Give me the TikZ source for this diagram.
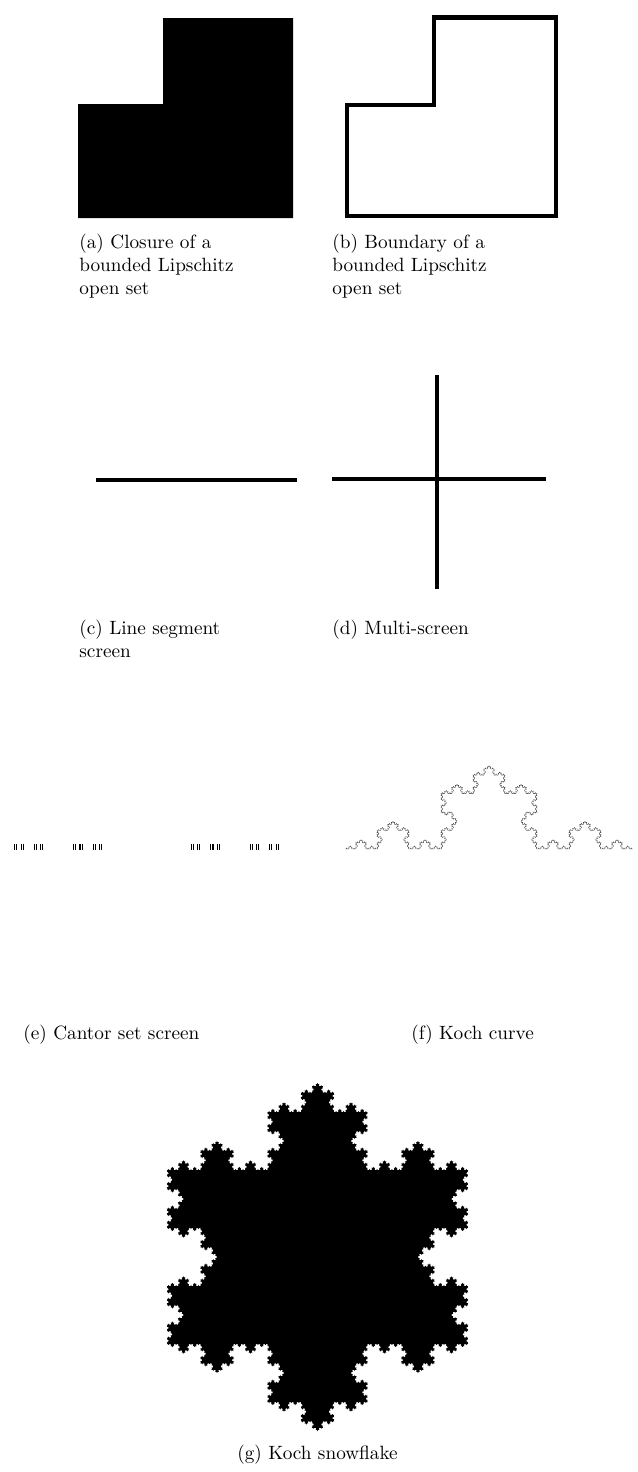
\documentclass[tikz,border=0pt]{standalone}
\usetikzlibrary{lindenmayersystems}
\pgfdeclarelindenmayersystem{Koch}{\rule{F -> F+F--F+F}}
\begin{document}
\begin{tikzpicture}[x=0.52pt,y=-0.52pt,
  caption/.style={anchor=base west,inner sep=0pt,font=\fontsize{10}{12}\selectfont},
  centercap/.style={anchor=base,inner sep=0pt,font=\fontsize{10}{12}\selectfont},
  thickline/.style={line width=2.08pt},
  outline/.style={line width=2.35pt,line join=miter},
  kochline/.style={line width=0.2pt,black!75}]
\useasboundingbox (0,0) rectangle (637,1472);

% (a) closure
\fill (163,18) -- (293,18) -- (293,218) -- (78,218) -- (78,104) -- (163,104) -- cycle;
\node[caption] (capa1) at (79,248) {(a) Closure of a};
\node[caption] (capa2) at (79,271) {bounded Lipschitz};
\node[caption] (capa3) at (79,294) {open set};

% (b) boundary
\draw[outline] (347,105) -- (434,105) -- (434,17.5) -- (556,17.5) -- (556,216) -- (347,216) -- cycle;
\node[caption] (capb1) at (332,248) {(b) Boundary of a};
\node[caption] (capb2) at (332,271) {bounded Lipschitz};
\node[caption] (capb3) at (332,294) {open set};

% (c) line segment
\draw[thickline] (96,480) -- (297,480);
\node[caption] (capc1) at (79,634) {(c) Line segment};
\node[caption] (capc2) at (79,657) {screen};

% (d) multi-screen
\draw[thickline] (332,479) -- (546,479);
\draw[thickline] (437,375) -- (437,589);
\node[caption] (capd1) at (332,634) {(d) Multi-screen};

% (e) Cantor set
\foreach \a in {0,2}{\foreach \b in {0,2}{\foreach \c in {0,2}{\foreach \d in {0,2}{\foreach \e in {0,2}{
  \fill ({14+265*(\a/3+\b/9+\c/27+\d/81+\e/243)},844) rectangle +(1.09,6);
}}}}}
\node[caption] (cape) at (23,1039) {(e) Cantor set screen};

% (f) Koch curve
\begin{scope}[shift={(345,849)}]
\draw[kochline] (0,0) [l-system={Koch, axiom=F, order=5, step=0.6163pt, angle=60}] lindenmayer system;
\end{scope}
\node[caption] (capf) at (411,1039) {(f) Koch curve};

% (g) Koch snowflake
\begin{scope}[shift={(317.5,1083)}, rotate=-60]
\fill (0,0) [l-system={Koch, axiom=F--F--F, order=5, step=0.64493pt, angle=60}] lindenmayer system -- cycle;
\end{scope}
\node[centercap] (capg) at (317.5,1459) {(g) Koch snowflake};
\end{tikzpicture}
\end{document}
